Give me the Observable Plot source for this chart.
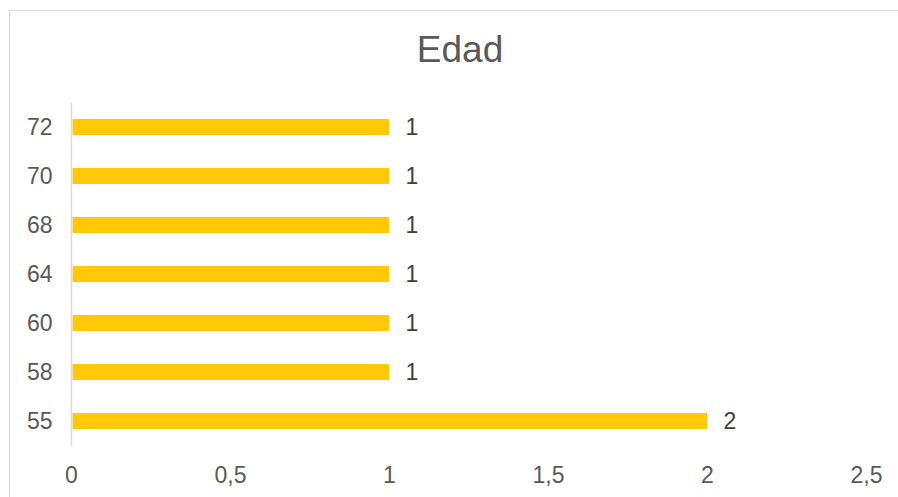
<!DOCTYPE html>
<html>
<head>
<meta charset="utf-8">
<script src="https://cdn.jsdelivr.net/npm/d3@7"></script>
<script src="https://cdn.jsdelivr.net/npm/@observablehq/plot@0.6"></script>
<style>
  html, body { margin: 0; padding: 0; background: #fff; overflow: hidden; }
  #wrap { position: relative; width: 898px; height: 497px; }
  #border { position: absolute; left: 9px; top: 10px; width: 1000px; height: 600px; border: 1.5px solid #d9d9d9; box-sizing: border-box; pointer-events: none; }
  #chart { position: absolute; left: 0; top: 0; }
</style>
</head>
<body>
<div id="wrap">
  <div id="border"></div>
  <div id="chart"></div>
</div>
<script>
const title = "Edad";
const ages = ["55", "58", "60", "64", "68", "70", "72"];
const counts = [2, 1, 1, 1, 1, 1, 1];
const xTicks = [0, 0.5, 1, 1.5, 2, 2.5];

const data = ages.map((a, i) => ({age: a, count: counts[i]}));
const fmt = v => String(v).replace(".", ",");
const FONT = "'Liberation Sans', Arial, sans-serif";

const chart = Plot.plot({
  width: 898,
  height: 497,
  marginLeft: 71,
  marginRight: 32,
  marginTop: 103,
  marginBottom: 51,
  style: {fontFamily: FONT, fontSize: "23px", color: "#595959", background: "transparent"},
  x: {domain: [0, 2.5], label: null},
  y: {domain: ages.slice().reverse(), paddingInner: 0.67, paddingOuter: 0.335, label: null},
  marks: [
    Plot.barX(data, {x: "count", y: "age", fill: "#ffc907", insetLeft: 1.5}),
    Plot.ruleX([0], {stroke: "#d9d9d9", strokeWidth: 1.5}),
    Plot.axisX({ticks: xTicks, tickFormat: fmt, tickSize: 0, tickPadding: 20, fontSize: 23, fill: "#595959", label: null}),
    Plot.axisY({tickSize: 0, tickPadding: 19, fontSize: 23, fill: "#595959", label: null}),
    Plot.text(data, {x: "count", y: "age", text: d => fmt(d.count), textAnchor: "start", dx: 16, fill: "#404040", fontSize: 23}),
    Plot.text([title], {frameAnchor: "top", lineAnchor: "middle", dy: -53, dx: -9, fontSize: 37, fill: "#595959"})
  ]
});
document.getElementById("chart").appendChild(chart);
</script>
</body>
</html>
